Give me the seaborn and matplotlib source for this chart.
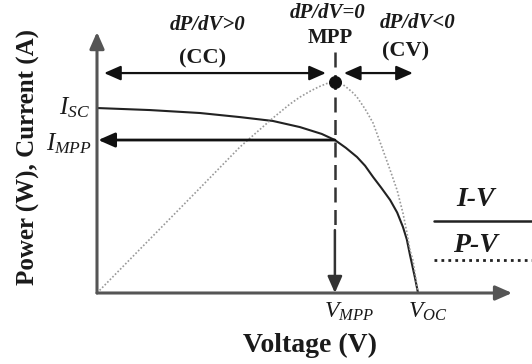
import matplotlib
matplotlib.use('Agg')
import seaborn as sns
import matplotlib.pyplot as plt

# I-V and P-V curves (normalised: V_OC = 1, I_SC = 1)
voltage_iv = [0.0, 0.165, 0.321, 0.445, 0.548, 0.632, 0.700, 0.741, 0.775, 0.810, 0.835,
              0.860, 0.885, 0.913, 0.935, 0.953, 0.965, 0.975, 0.990, 1.0]
current_iv = [1.0, 0.989, 0.973, 0.951, 0.930, 0.897, 0.860, 0.827, 0.785, 0.735, 0.688,
              0.627, 0.570, 0.503, 0.435, 0.357, 0.290, 0.205, 0.086, 0.0]
voltage_pv = [0.0, 0.165, 0.321, 0.445, 0.548, 0.600, 0.632, 0.665, 0.690, 0.715, 0.741,
              0.765, 0.780, 0.795, 0.810, 0.835, 0.860, 0.885, 0.913, 0.935, 0.953,
              0.965, 0.975, 0.984, 0.993, 1.0]
power_pv = [0.0, 0.292, 0.568, 0.789, 0.946, 1.020, 1.059, 1.092, 1.114, 1.132, 1.141,
            1.128, 1.108, 1.086, 1.059, 0.995, 0.919, 0.800, 0.665, 0.555, 0.432,
            0.330, 0.232, 0.178, 0.080, 0.0]

v_mpp = 0.741
i_mpp = 0.827
p_mpp = 1.141
i_sc = 1.0
v_oc = 1.0

sns.set_style('white')
plt.rcParams['font.family'] = ['Liberation Serif', 'DejaVu Serif']
plt.rcParams['mathtext.fontset'] = 'custom'
plt.rcParams['mathtext.it'] = 'Liberation Serif:italic'
plt.rcParams['mathtext.rm'] = 'Liberation Serif'

txt = '#1a1a1a'
fig = plt.figure(figsize=(5.32, 3.64), dpi=100)
ax = fig.add_axes([97 / 532, 71 / 364, 435 / 532, 293 / 364])
ax.set_xlim(0, 1.355)
ax.set_ylim(0, 1.584)
ax.axis('off')

# curves
sns.lineplot(x=voltage_iv, y=current_iv, ax=ax, color='#222222', lw=1.5, sort=False)
sns.lineplot(x=voltage_pv, y=power_pv, ax=ax, color='#999999', lw=1.2,
             linestyle=(0, (1, 1.2)), sort=False)


def arrow(start, end, style='-|>', color='#111111', lw=1.6):
    ax.annotate('', xy=end, xytext=start, annotation_clip=False,
                arrowprops=dict(arrowstyle=style + ',head_length=0.5,head_width=0.22',
                                mutation_scale=20, color=color, lw=lw,
                                shrinkA=0, shrinkB=0))


# axes with arrow heads
arrow((0, 0), (1.293, 0), color='#555555', lw=2.2)
arrow((0, 0), (0, 1.411), color='#555555', lw=2.2)

# region arrows
arrow((0.022, 1.189), (0.713, 1.189), style='<|-|>')
arrow((0.769, 1.189), (0.984, 1.189), style='<|-|>')

# I_MPP arrow and V_MPP line
arrow((v_mpp, i_mpp), (0.004, i_mpp), lw=2.0)
ax.plot([v_mpp, v_mpp], [1.303, 0.34], color='#333333', lw=1.8,
        linestyle=(0, (6, 3)), clip_on=False)
arrow((v_mpp, 0.34), (v_mpp, 0.0), color='#333333', lw=1.8)

# MPP dot
ax.scatter([v_mpp], [p_mpp], s=70, color='#111111', zorder=5, clip_on=False)

# annotations
ax.text(0.346, 1.449, 'dP/dV>0', ha='center', va='center', fontsize=15,
        fontweight='bold', fontstyle='italic', color=txt)
ax.text(0.330, 1.270, '(CC)', ha='center', va='center', fontsize=16,
        fontweight='bold', color=txt)
ax.text(0.717, 1.514, 'dP/dV=0', ha='center', va='center', fontsize=15,
        fontweight='bold', fontstyle='italic', color=txt, clip_on=False)
ax.text(0.726, 1.378, 'MPP', ha='center', va='center', fontsize=15,
        fontweight='bold', color=txt)
ax.text(1.0, 1.459, 'dP/dV<0', ha='center', va='center', fontsize=15,
        fontweight='bold', fontstyle='italic', color=txt)
ax.text(0.960, 1.303, '(CV)', ha='center', va='center', fontsize=16,
        fontweight='bold', color=txt)

ax.text(-0.022, i_sc, r'$I_{SC}$', ha='right', va='center', fontsize=18, color=txt)
ax.text(-0.016, i_mpp - 0.02, r'$I_{MPP}$', ha='right', va='center', fontsize=18, color=txt)
ax.text(v_mpp + 0.044, -0.103, r'$V_{MPP}$', ha='center', va='center', fontsize=17, color=txt)
ax.text(v_oc + 0.031, -0.103, r'$V_{OC}$', ha='center', va='center', fontsize=17, color=txt)

ax.text(0.664, -0.281, 'Voltage (V)', ha='center', va='center', fontsize=20,
        fontweight='bold', color=txt)
ax.text(-0.215, 0.735, 'Power (W), Current (A)', ha='center', va='center',
        rotation=90, fontsize=18, fontweight='bold', color=txt)

# legend drawn by hand as in the original
ax.text(1.178, 0.503, 'I-V', ha='center', va='center', fontsize=20,
        fontweight='bold', fontstyle='italic', color=txt)
ax.plot([1.05, 1.355], [0.389, 0.389], color='#222222', lw=1.8, clip_on=False)
ax.text(1.178, 0.259, 'P-V', ha='center', va='center', fontsize=20,
        fontweight='bold', fontstyle='italic', color=txt)
ax.plot([1.05, 1.355], [0.178, 0.178], color='#222222', lw=2.0,
        linestyle=(0, (1, 1.5)), clip_on=False)

fig.savefig('out.png', dpi=100)
